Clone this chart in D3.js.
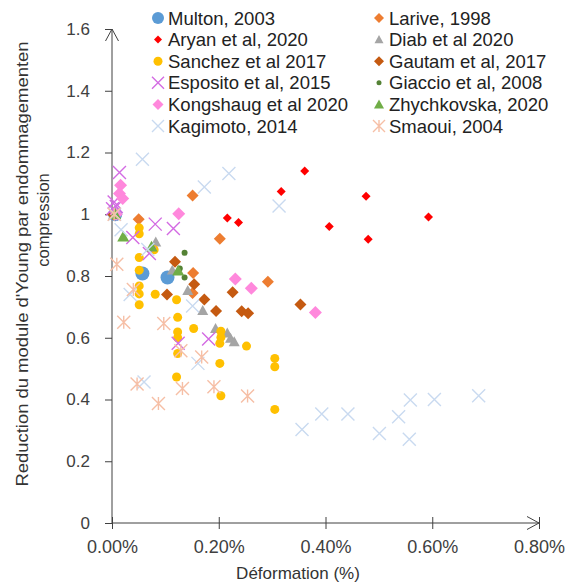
<!DOCTYPE html>
<html><head><meta charset="utf-8">
<script src="https://cdn.jsdelivr.net/npm/d3@7"></script>
<style>body{margin:0;background:#fff}svg{display:block}</style>
</head><body>
<svg id="c" width="573" height="584"></svg>
<script>
// ---- data (x in %, y = ratio) ----
const xTicks = [0, 0.2, 0.4, 0.6, 0.8];
const xTickLabels = ["0.00%", "0.20%", "0.40%", "0.60%", "0.80%"];
const yTicks = [0, 0.2, 0.4, 0.6, 0.8, 1.0, 1.2, 1.4, 1.6];
const yTickLabels = ["0", "0.2", "0.4", "0.6", "0.8", "1", "1.2", "1.4", "1.6"];

const multon = [[0.006,1.0],[0.057,0.808],[0.104,0.795]];
const larive = [[0.004,1.0],[0.050,0.984],[0.151,1.061],[0.202,0.921],[0.152,0.810],[0.151,0.745],[0.292,0.781]];
const aryan = [[0.216,0.988],[0.237,0.973],[0.317,1.074],[0.361,1.140],[0.407,0.960],[0.476,1.058],[0.480,0.919],[0.593,0.991]];
const diab = [[0.003,1.0],[0.082,0.910],[0.113,0.819],[0.142,0.753],[0.170,0.688],[0.194,0.630],[0.216,0.615],[0.222,0.598],[0.229,0.587]];
const sanchez = [[0.051,0.956],[0.051,0.937],[0.051,0.860],[0.051,0.819],[0.051,0.768],[0.051,0.742],[0.051,0.707],[0.079,0.885],[0.081,0.741],[0.121,0.723],[0.123,0.666],[0.123,0.619],[0.123,0.600],[0.123,0.549],[0.121,0.473],[0.153,0.630],[0.204,0.621],[0.204,0.601],[0.202,0.582],[0.202,0.517],[0.204,0.412],[0.252,0.573],[0.305,0.533],[0.305,0.506],[0.305,0.368]];
const gautam = [[0.002,1.0],[0.103,0.740],[0.118,0.846],[0.154,0.773],[0.173,0.724],[0.195,0.687],[0.226,0.747],[0.243,0.686],[0.255,0.679],[0.353,0.708]];
const esposito = [[0.001,1.018],[0.004,1.040],[0.008,1.025],[0.014,1.135],[0.039,0.925],[0.070,0.873],[0.081,0.968],[0.115,0.954],[0.124,0.582],[0.181,0.596]];
const giaccio = [[0.003,1.0],[0.127,0.824],[0.136,0.875],[0.136,0.795]];
const kongshaug = [[0.008,1.0],[0.014,1.067],[0.016,1.094],[0.020,1.051],[0.125,1.002],[0.231,0.790],[0.261,0.760],[0.381,0.682]];
const zhychkovska = [[0.006,1.0],[0.021,0.927],[0.074,0.895],[0.124,0.817]];
const kagimoto = [[0.005,1.0],[0.017,0.950],[0.034,0.740],[0.057,1.178],[0.060,0.457],[0.067,0.886],[0.151,0.703],[0.161,0.517],[0.173,1.088],[0.219,1.132],[0.313,1.027],[0.356,0.303],[0.393,0.353],[0.442,0.353],[0.501,0.290],[0.537,0.344],[0.557,0.271],[0.559,0.398],[0.604,0.400],[0.687,0.412]];
const smaoui = [[0.004,1.0],[0.009,0.838],[0.022,0.650],[0.040,0.756],[0.047,0.450],[0.087,0.387],[0.097,0.646],[0.129,0.558],[0.132,0.436],[0.168,0.538],[0.191,0.441],[0.254,0.411]];

const seriesNames = ["Multon, 2003","Larive, 1998","Aryan et al, 2020","Diab et al 2020","Sanchez et al 2017","Gautam et al, 2017","Esposito et al, 2015","Giaccio et al, 2008","Kongshaug et al 2020","Zhychkovska, 2020","Kagimoto, 2014","Smaoui, 2004"];
const seriesData = [multon, larive, aryan, diab, sanchez, gautam, esposito, giaccio, kongshaug, zhychkovska, kagimoto, smaoui];
const seriesColors = ["#5B9BD5","#ED7D31","#FF0000","#A5A5A5","#FFC000","#C55A11","#D36BE3","#548235","#FF88DC","#70AD47","#C9DAF0","#F6BFA6"];
const seriesShapes = ["circle","diamond","diamond","triangle","circle","diamond","x","circle","diamond","triangle","x","star"];
const seriesSizes = [7, 6, 4.5, 5.5, 4.5, 6, 6.5, 3, 6.5, 6, 6.5, 6.5];
const legendSizes = [6, 5, 4, 4.5, 4.5, 5, 6, 2.5, 5.5, 5, 6, 6];

// ---- drawing ----
const svg = d3.select("#c");
const x = d3.scaleLinear().domain([0, 0.8]).range([112, 539]);
const y = d3.scaleLinear().domain([0, 1.6]).range([523, 29]);
const axisColor = "#404040";
const font = "'Liberation Sans', Arial, sans-serif";

function shapePath(shape, s) {
  if (shape === "diamond") return `M0,${-s}L${s},0L0,${s}L${-s},0Z`;
  if (shape === "triangle") return `M0,${-s}L${s},${s*0.8}L${-s},${s*0.8}Z`;
  if (shape === "x") return `M${-s},${-s}L${s},${s}M${-s},${s}L${s},${-s}`;
  if (shape === "star") return `M${-s},${-s}L${s},${s}M${-s},${s}L${s},${-s}M0,${-s}L0,${s}`;
  return null;
}
function drawMarker(g, shape, size, color) {
  if (shape === "circle") {
    g.append("circle").attr("r", size).attr("fill", color);
  } else if (shape === "x" || shape === "star") {
    g.append("path").attr("d", shapePath(shape, size)).attr("fill", "none").attr("stroke", color).attr("stroke-width", 1.4);
  } else {
    g.append("path").attr("d", shapePath(shape, size)).attr("fill", color);
  }
}

// axes
const yAxis = d3.axisLeft(y).tickValues(yTicks).tickFormat((d, i) => yTickLabels[i]).tickSizeInner(7).tickSizeOuter(0).tickPadding(15);
const gy = svg.append("g").attr("transform", "translate(112,0)").call(yAxis);
gy.select(".domain").remove();
gy.selectAll(".tick line").attr("stroke", axisColor);
gy.selectAll(".tick text").attr("font-family", font).attr("font-size", 17).attr("fill", "#404040");

const xAxis = d3.axisBottom(x).tickValues(xTicks).tickFormat((d, i) => xTickLabels[i]).tickSizeInner(6).tickSizeOuter(0).tickPadding(11);
const gx = svg.append("g").attr("transform", "translate(0,523)").call(xAxis);
gx.select(".domain").remove();
gx.selectAll(".tick line").attr("y1", -6).attr("stroke", axisColor);
gx.selectAll(".tick text").attr("font-family", font).attr("font-size", 18).attr("fill", "#404040");

// axis lines with arrows
svg.append("path").attr("d", `M${x(0)},${y(0)}L${x(0)},${y(1.6)}M${x(0)-6.5},${y(1.6)+12}L${x(0)},${y(1.6)}L${x(0)+6.5},${y(1.6)+12}`)
  .attr("fill", "none").attr("stroke", axisColor).attr("stroke-width", 1);
svg.append("path").attr("d", `M${x(0)},${y(0)}L${x(0.8)},${y(0)}M${x(0.8)-12},${y(0)-6.5}L${x(0.8)},${y(0)}L${x(0.8)-12},${y(0)+6.5}`)
  .attr("fill", "none").attr("stroke", axisColor).attr("stroke-width", 1);

// titles
svg.append("text").attr("x", 298).attr("y", 579).attr("text-anchor", "middle")
  .attr("font-family", font).attr("font-size", 17).attr("fill", "#333").text("Déformation (%)");
svg.append("text").attr("transform", "translate(28,264) rotate(-90)").attr("text-anchor", "middle")
  .attr("font-family", font).attr("font-size", 16.5).attr("fill", "#333")
  .attr("textLength", 445).attr("lengthAdjust", "spacingAndGlyphs")
  .text("Reduction du module d'Young par endommagementen");
svg.append("text").attr("transform", "translate(49,220) rotate(-90)").attr("text-anchor", "middle")
  .attr("font-family", font).attr("font-size", 16.5).attr("fill", "#333").text("compression");

// points
seriesData.forEach((data, si) => {
  const g = svg.append("g");
  data.forEach(d => {
    const m = g.append("g").attr("transform", `translate(${x(d[0])},${y(d[1])})`);
    drawMarker(m, seriesShapes[si], seriesSizes[si], seriesColors[si]);
  });
});

// legend
const leg = svg.append("g");
seriesNames.forEach((name, i) => {
  const col = i % 2, row = Math.floor(i / 2);
  const mx = col === 0 ? 158 : 379;
  const ly = 18 + row * 21.6;
  const m = leg.append("g").attr("transform", `translate(${mx},${ly})`);
  drawMarker(m, seriesShapes[i], legendSizes[i], seriesColors[i]);
  leg.append("text").attr("x", mx + 10).attr("y", ly + 6.5)
    .attr("font-family", font).attr("font-size", 18.5).attr("fill", "#222").text(name);
});
</script>
</body></html>
